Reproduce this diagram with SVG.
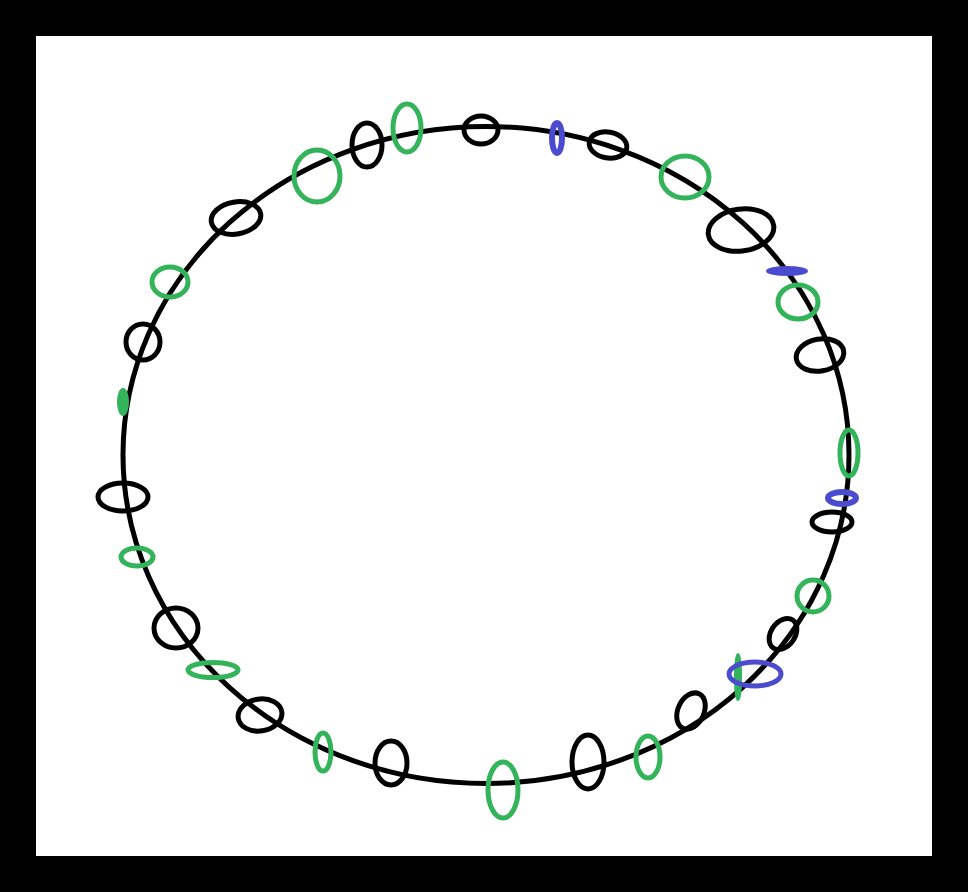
<svg xmlns="http://www.w3.org/2000/svg" width="968" height="892" viewBox="0 0 968 892">
<style>
.k{fill:none;stroke:#000;stroke-width:5}
.g{fill:none;stroke:#33b35a;stroke-width:5}
.b{fill:none;stroke:#4b4bcf;stroke-width:5}
.gf{fill:#33b35a;stroke:#33b35a;stroke-width:2}
.bf{fill:#4b4bcf;stroke:#4b4bcf;stroke-width:2}
</style>
<rect x="0" y="0" width="968" height="892" fill="#000"/>
<rect x="36" y="36" width="896" height="820" fill="#fff"/>
<g id="ring">
<ellipse cx="486" cy="455" rx="363" ry="328.5" class="k"/>
</g>
<g id="rings">
<ellipse id="k1" cx="481" cy="130" rx="17" ry="14" class="k"/>
<ellipse id="g1" cx="407" cy="128" rx="14" ry="24" class="g"/>
<ellipse id="k2" cx="367" cy="145" rx="15" ry="22" class="k"/>
<ellipse id="g2" cx="317" cy="176" rx="23" ry="26" class="g"/>
<ellipse id="k3" cx="236" cy="218" rx="25" ry="16" class="k" transform="rotate(-10 236 218)"/>
<ellipse id="g3" cx="170" cy="282" rx="18" ry="15" class="g"/>
<ellipse id="k4" cx="143" cy="342" rx="17" ry="18" class="k"/>
<ellipse id="g4" cx="123" cy="402" rx="5" ry="13" class="gf"/>
<ellipse id="k5" cx="123" cy="497" rx="25" ry="14" class="k"/>
<ellipse id="g5" cx="137" cy="557" rx="16" ry="9" class="g"/>
<ellipse id="k6" cx="176" cy="628" rx="22" ry="20" class="k"/>
<ellipse id="g6" cx="213" cy="670" rx="25" ry="7.5" class="g"/>
<ellipse id="k7" cx="260" cy="715" rx="22" ry="16" class="k" transform="rotate(-8 260 715)"/>
<ellipse id="g7" cx="323" cy="752" rx="8" ry="19" class="g"/>
<ellipse id="k8" cx="391" cy="763" rx="16" ry="22" class="k"/>
<ellipse id="g8" cx="503" cy="790" rx="15" ry="28" class="g"/>
<ellipse id="k9" cx="588" cy="762" rx="16" ry="27" class="k"/>
<ellipse id="g9" cx="648" cy="757" rx="12" ry="21" class="g"/>
<ellipse id="k10" cx="691" cy="711" rx="13" ry="19" class="k" transform="rotate(25 691 711)"/>
<ellipse id="g10" cx="738" cy="677" rx="3" ry="23" class="gf"/>
<ellipse id="b1" cx="755" cy="674" rx="26" ry="12" class="b"/>
<ellipse id="k11" cx="783" cy="634" rx="12" ry="17" class="k" transform="rotate(35 783 634)"/>
<ellipse id="g11" cx="813" cy="596" rx="16" ry="16" class="g"/>
<ellipse id="k12" cx="832" cy="522" rx="20" ry="10" class="k"/>
<ellipse id="b2" cx="842" cy="498" rx="14" ry="6" class="b" style="stroke-width:6"/>
<ellipse id="g12" cx="849" cy="453" rx="9" ry="23" class="g"/>
<ellipse id="k13" cx="820" cy="355" rx="24" ry="16" class="k" transform="rotate(-10 820 355)"/>
<ellipse id="g13" cx="798" cy="302" rx="20" ry="17" class="g"/>
<ellipse id="b3" cx="787" cy="271" rx="20" ry="4" class="bf"/>
<ellipse id="k14" cx="741" cy="230" rx="33" ry="21" class="k" transform="rotate(-8 741 230)"/>
<ellipse id="g14" cx="685" cy="177" rx="24" ry="21" class="g"/>
<ellipse id="k15" cx="608" cy="145" rx="19" ry="13" class="k" transform="rotate(10 608 145)"/>
<ellipse id="b4" cx="557" cy="138" rx="5" ry="15" class="b" style="stroke-width:6"/>
</g>
</svg>
